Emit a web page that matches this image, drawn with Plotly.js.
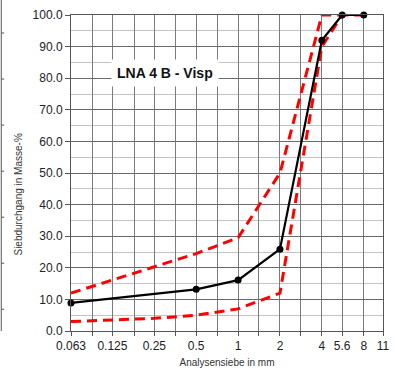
<!DOCTYPE html>
<html>
<head>
<meta charset="utf-8">
<script src="https://cdn.plot.ly/plotly-3.0.1.min.js"></script>
<style>
  html, body { margin: 0; padding: 0; background: #fff; }
  #chart { width: 395px; height: 369px; }
</style>
</head>
<body>
<div id="chart"></div>
<script>
// Sieve sizes in mm (grid lines at every sieve, labels on the main ones)
const sieveSizes = [0.063, 0.09, 0.125, 0.18, 0.25, 0.355, 0.5, 0.71, 1, 1.4, 2, 2.8, 4, 5.6, 8, 11];
const sieveLabels = ['0.063', '', '0.125', '', '0.25', '', '0.5', '', '1', '', '2', '', '4', '5.6', '8', '11'];

// Measured grading curve (passing in mass-%)
const sampleSizes = [0.063, 0.5, 1, 2, 4, 5.6, 8];
const samplePassing = [8.9, 13.2, 16.1, 25.9, 92, 100, 100];

// Upper grading limit
const upperSizes = [0.063, 0.5, 1, 2, 4, 5.6];
const upperPassing = [12, 24.5, 29.5, 50, 100, 100];

// Lower grading limit
const lowerSizes = [0.063, 0.25, 0.5, 1, 2, 4, 5.6, 8];
const lowerPassing = [3, 4, 5, 7, 12, 90, 100, 100];

const limitLine = { color: '#ff0000', width: 3, dash: '10px,6px' };

const traces = [
  { x: upperSizes, y: upperPassing, type: 'scatter', mode: 'lines',
    line: limitLine, cliponaxis: false, hoverinfo: 'skip' },
  { x: lowerSizes, y: lowerPassing, type: 'scatter', mode: 'lines',
    line: limitLine, cliponaxis: false, hoverinfo: 'skip' },
  { x: sampleSizes, y: samplePassing, type: 'scatter', mode: 'lines+markers',
    line: { color: '#000', width: 2.2 },
    marker: { color: '#000', size: 7 }, cliponaxis: false }
];

// Thin frame with short ticks along the far-left edge
const shapes = [{
  type: 'line', xref: 'paper', yref: 'paper',
  x0: -0.2235, x1: -0.2235, y0: 0.0, y1: 1.05,
  line: { color: '#555', width: 1 }
}];
[33, 79, 125, 171, 217, 263, 309].forEach(py => {
  const yp = (330.7 - py) / 315.7;
  shapes.push({
    type: 'line', xref: 'paper', yref: 'paper',
    x0: -0.2235, x1: -0.214, y0: yp, y1: yp,
    line: { color: '#555', width: 1 }
  });
});

const layout = {
  width: 395, height: 369,
  margin: { l: 71, r: 12, t: 15, b: 38 },
  paper_bgcolor: '#fff', plot_bgcolor: '#fff',
  showlegend: false,
  font: { family: 'Liberation Sans, Arial, sans-serif', color: '#222' },
  xaxis: {
    type: 'log',
    range: [Math.log10(0.063), Math.log10(11)],
    tickmode: 'array', tickvals: sieveSizes, ticktext: sieveLabels,
    tickfont: { size: 12, color: '#222' },
    ticks: 'outside', ticklen: 4, tickcolor: '#555',
    showgrid: true, gridcolor: '#7a7a7a', gridwidth: 1,
    showline: true, linecolor: '#555', linewidth: 1, mirror: true,
    zeroline: false,
    title: { text: 'Analysensiebe in mm', font: { size: 10, color: '#333' }, standoff: 6 }
  },
  yaxis: {
    range: [0, 100],
    tickmode: 'linear', tick0: 0, dtick: 10, tickformat: '.1f',
    tickfont: { size: 12, color: '#222' },
    ticks: 'outside', ticklen: 5, tickcolor: '#555',
    showgrid: true, gridcolor: '#6a6a6a', gridwidth: 1,
    minor: { dtick: 5, showgrid: true, gridcolor: '#c4c4c4', gridwidth: 1, ticks: '' },
    showline: true, linecolor: '#555', linewidth: 1, mirror: true,
    zeroline: false
  },
  shapes: shapes,
  annotations: [
    {
      text: '<b>LNA 4 B - Visp</b>', xref: 'paper', yref: 'paper',
      x: 0.302, y: 0.816, xanchor: 'center', yanchor: 'middle', showarrow: false,
      font: { size: 14, color: '#111', family: 'Liberation Sans, Arial, sans-serif' },
      bgcolor: '#fff', borderpad: 5
    },
    {
      text: 'Siebdurchgang in Masse-%', xref: 'paper', yref: 'paper',
      x: (18 - 70.7) / 312.3, y: (330.7 - 194) / 315.7,
      xanchor: 'center', yanchor: 'middle', textangle: -90, showarrow: false,
      font: { size: 10, color: '#333' }
    }
  ]
};

Plotly.newPlot('chart', traces, layout, { staticPlot: true, displayModeBar: false });
</script>
</body>
</html>
